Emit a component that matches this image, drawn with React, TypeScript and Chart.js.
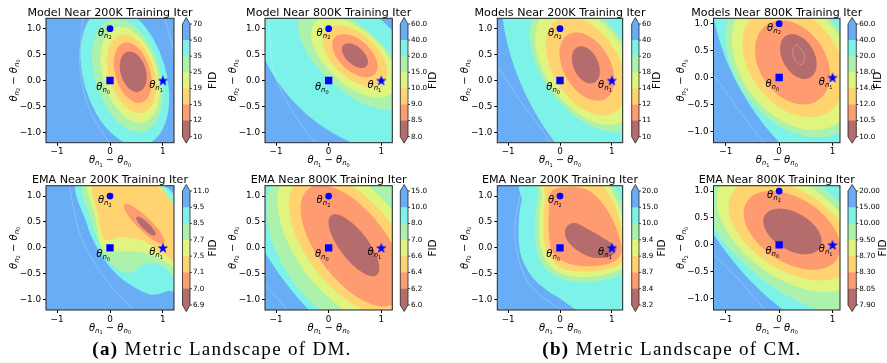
import React, { useEffect, useRef } from "react";
import { Chart, registerables } from "chart.js";
Chart.register(...registerables);

const FONT = "DejaVu Sans";
const LEVEL_COLORS = [
  "rgb(181,108,108)",
  "rgb(255,155,112)",
  "rgb(255,212,112)",
  "rgb(224,244,128)",
  "rgb(172,242,172)",
  "rgb(124,242,232)",
  "rgb(104,173,246)",
];

// ---- shared data ----
const thetaPoints = [
  { x: 0, y: 0 },
  { x: 1, y: 0 },
  { x: 0, y: 1 },
];
const thetaSubs = ["0", "1", "2"];
const xTickValues = [-1, 0, 1];
const yTickValues = [-1, -0.5, 0, 0.5, 1];

// ---- titles ----
const dmModel200kTitle = "Model Near 200K Training Iter";
const dmModel800kTitle = "Model Near 800K Training Iter";
const cmModel200kTitle = "Models Near 200K Training Iter";
const cmModel800kTitle = "Models Near 800K Training Iter";
const dmEma200kTitle = "EMA Near 200K Training Iter";
const dmEma800kTitle = "EMA Near 800K Training Iter";
const cmEma200kTitle = "EMA Near 200K Training Iter";
const cmEma800kTitle = "EMA Near 800K Training Iter";

// ---- colorbar tick labels (top -> bottom) ----
const dmModel200kTicks = ["70", "50", "35", "25", "19", "15", "12", "10"];
const dmModel800kTicks = ["60.0", "40.0", "20.0", "15.0", "10.0", "9.0", "8.5", "8.0"];
const cmModel200kTicks = ["60", "40", "20", "18", "14", "12", "11", "10"];
const cmModel800kTicks = ["60.0", "40.0", "20.0", "18.0", "14.0", "12.0", "10.5", "10.0"];
const dmEma200kTicks = ["11.0", "9.5", "8.5", "7.7", "7.5", "7.1", "7.0", "6.9"];
const dmEma800kTicks = ["15.0", "10.0", "8.0", "7.0", "6.6", "6.4", "6.2", "6.0"];
const cmEma200kTicks = ["20.0", "15.0", "10.0", "9.4", "8.9", "8.7", "8.4", "8.2"];
const cmEma800kTicks = ["20.00", "15.00", "10.00", "9.50", "8.70", "8.30", "8.05", "7.90"];

// ---- contour regions: ellipses [level, cx, cy, semiA, semiB, angleDeg] ----
const dmModel200kEllipses = [
  [5, 0.28, 0.08, 1.38, 0.78, 106],
  [4, 0.33, 0.1, 1.12, 0.62, 106],
  [3, 0.38, 0.11, 0.95, 0.52, 106],
  [2, 0.41, 0.13, 0.78, 0.43, 106],
  [1, 0.43, 0.15, 0.6, 0.33, 106],
  [0, 0.44, 0.17, 0.4, 0.24, 106],
];
const dmModel800kEllipses = [
  [5, 0.3, 0.25, 2.0, 1.15, 137],
  [4, 0.45, 0.42, 1.3, 0.6, 137],
  [3, 0.48, 0.45, 1.0, 0.52, 137],
  [2, 0.5, 0.47, 0.74, 0.42, 137],
  [1, 0.5, 0.48, 0.52, 0.3, 137],
  [0, 0.5, 0.48, 0.3, 0.17, 137],
];
const cmModel200kEllipses = [
  [5, 0.45, 0.3, 2.6, 1.25, 115],
  [4, 0.5, 0.3, 1.45, 0.85, 125],
  [3, 0.5, 0.3, 1.3, 0.78, 125],
  [2, 0.5, 0.28, 1.05, 0.64, 122],
  [1, 0.52, 0.27, 0.72, 0.45, 120],
  [0, 0.5, 0.3, 0.38, 0.24, 115],
];
const cmModel800kEllipses = [
  [5, 0.3, 0.3, 2.4, 1.15, 120],
  [4, 0.26, 0.27, 1.55, 1.06, 128],
  [3, 0.27, 0.28, 1.4, 0.98, 128],
  [2, 0.27, 0.3, 1.15, 0.82, 128],
  [1, 0.25, 0.28, 0.85, 0.62, 125],
  [0, 0.36, 0.39, 0.45, 0.3, 120],
];
const dmEma200kEllipses = [
  [1, 0.65, 0.46, 0.53, 0.13, 135],
  [0, 0.68, 0.42, 0.25, 0.07, 135],
];
const dmEma800kEllipses = [
  [5, 0.55, 0.25, 3.2, 1.65, 128],
  [4, 0.42, 0.06, 2.0, 1.3, 128],
  [3, 0.42, 0.08, 1.85, 1.02, 128],
  [2, 0.44, 0.06, 1.62, 0.84, 128],
  [1, 0.45, 0.04, 1.38, 0.66, 127],
  [0, 0.48, 0.05, 0.72, 0.27, 127],
];
const cmEma800kEllipses = [
  [5, 0.2, 0.3, 2.6, 1.2, 132],
  [4, 0.18, 0.27, 2.1, 1.02, 140],
  [3, 0.2, 0.27, 1.55, 0.88, 145],
  [2, 0.22, 0.27, 1.3, 0.74, 148],
  [1, 0.24, 0.27, 1.0, 0.6, 148],
  [0, 0.25, 0.25, 0.6, 0.35, 150],
];

// ---- contour regions: closed outlines {level, pts} ----
const dmEma200kOutlines = [
  { level: 5, pts: [[-0.6, 1.33], [0.7, 1.33], [1.33, 0.79], [1.33, -0.68], [1.08, -0.84], [0.76, -0.9], [0.38, -0.71], [0.06, -0.44], [-0.22, -0.04], [-0.44, 0.47]] },
  { level: 4, pts: [[-0.47, 1.33], [0.79, 1.33], [1.33, 0.54], [1.33, -0.55], [1.01, -0.36], [0.76, -0.29], [0.57, -0.36], [0.41, -0.47], [0.19, -0.44], [-0.06, -0.23], [-0.2, 0.06], [-0.38, 0.6]] },
  { level: 3, pts: [[-0.38, 1.33], [0.75, 1.33], [1.33, 0.44], [1.33, -0.39], [1.08, -0.29], [0.76, -0.13], [0.51, -0.07], [0.19, -0.07], [-0.09, -0.08], [-0.19, 0.12], [-0.28, 0.6]] },
  { level: 2, pts: [[-0.28, 1.33], [0.71, 1.33], [1.33, 0.54], [1.33, -0.24], [0.95, -0.09], [0.76, 0.06], [0.51, 0.17], [0.19, 0.21], [-0.03, 0.14], [-0.14, 0.22], [-0.22, 0.6]] },
];
const cmEma200kOutlines = [
  { level: 5, pts: [[-0.61, 1.28], [1.35, 1.28], [1.35, -1.27], [0.51, -1.27], [0.0, -0.98], [-0.38, -0.72], [-0.61, -0.46], [-0.77, -0.08], [-0.8, 0.44], [-0.74, 0.92]] },
  { level: 4, pts: [[-0.32, 1.28], [0.87, 1.28], [1.19, 0.86], [1.31, 0.34], [1.31, -0.37], [1.09, -0.56], [0.58, -0.66], [0.13, -0.63], [-0.26, -0.43], [-0.45, -0.05], [-0.48, 0.54], [-0.42, 1.02]] },
  { level: 3, pts: [[-0.27, 1.28], [0.77, 1.28], [1.09, 0.92], [1.25, 0.34], [1.25, -0.3], [1.03, -0.46], [0.58, -0.56], [0.13, -0.53], [-0.19, -0.34], [-0.38, 0.02], [-0.4, 0.54], [-0.35, 0.99]] },
  { level: 2, pts: [[-0.21, 1.26], [0.67, 1.26], [0.99, 0.95], [1.19, 0.37], [1.21, -0.24], [0.96, -0.4], [0.58, -0.46], [0.13, -0.43], [-0.13, -0.27], [-0.29, 0.05], [-0.32, 0.54], [-0.29, 0.95]] },
  { level: 1, pts: [[-0.13, 1.12], [0.32, 1.17], [0.64, 1.05], [0.93, 0.7], [1.12, 0.28], [1.19, -0.08], [1.03, -0.27], [0.71, -0.35], [0.32, -0.34], [0.03, -0.24], [-0.16, -0.05], [-0.22, 0.34], [-0.21, 0.79]] },
  { level: 0, pts: [[0.13, 0.41], [0.29, 0.48], [0.58, 0.34], [0.9, 0.15], [1.09, -0.01], [0.96, -0.17], [0.64, -0.19], [0.38, -0.08], [0.19, 0.08], [0.1, 0.25]] },
];

// ---- faint contour lines inside the far region ----
const dmModel200kFaint = [
  [[-0.51, 1.25], [-0.57, 0.26], [-0.38, -0.58], [0.02, -1.25]],
  [[1.02, 1.25], [1.2, 0.6], [1.28, 0.3]],
];
const dmModel800kFaint = [[[-1.14, 1.25], [-1.06, 0.26], [-0.81, -0.38], [-0.49, -0.9], [-0.2, -1.25]]];
const cmModel200kFaint = [[[-1.25, 0.25], [-1.15, 0.19], [-0.77, -0.39], [-0.38, -0.9], [-0.16, -1.25]]];
const cmModel800kFaint = [
  [[-1.25, 0.08], [-0.8, -0.54], [-0.43, -1.03], [-0.22, -1.25]],
  [[0.24, 0.5], [0.34, 0.6], [0.48, 0.4], [0.42, 0.24], [0.3, 0.32], [0.24, 0.5]],
];
const dmEma200kFaint = [
  [[-0.79, 1.3], [-0.57, 0.28], [-0.25, -0.36], [0.13, -0.87], [0.51, -1.25]],
  [[0.89, 1.3], [1.25, 0.9]],
];
const dmEma800kFaint = [[[-1.25, -0.66], [-1.0, -0.95], [-0.75, -1.25]]];
const cmEma200kFaint = [[[-0.71, 1.25], [-0.87, 0.44], [-0.8, -0.21], [-0.58, -0.72], [-0.19, -1.05], [0.13, -1.25]]];
const cmEma800kFaint = [[[-1.25, -0.15], [-0.8, -0.6], [-0.3, -1.17], [-0.25, -1.25]]];

// ---- layout (positions only) ----
type Panel = {
  title: string;
  ticks: string[];
  ellipses: number[][];
  outlines: { level: number; pts: number[][] }[];
  faint: number[][][];
  L: number; R: number; T: number; B: number;
  xr: number[]; yr: number[];
  cbL: number; cbR: number; cbT: number; cbB: number; fidX: number;
};

const COLS = [
  { L: 46, R: 174, cbL: 182.5, cbR: 190, xr: [-1.21, 1.21], yr: [-1.2, 1.2] },
  { L: 265, R: 392.3, cbL: 400.3, cbR: 408, xr: [-1.21, 1.21], yr: [-1.2, 1.2] },
  { L: 497.3, R: 622.7, cbL: 631.7, cbR: 639, xr: [-1.21, 1.21], yr: [-1.2, 1.2] },
  { L: 713.5, R: 840, cbL: 848, cbR: 856.3, xr: [-1.23, 1.14], yr: [-1.21, 1.1] },
];
const ROWS = [
  { T: 18.3, B: 142.7, cbT: 24, cbB: 136.7 },
  { T: 185.7, B: 310, cbT: 191, cbB: 305 },
];

function mk(col: number, row: number, fidX: number, title: string, ticks: string[], ellipses: number[][], outlines: any[], faint: number[][][]): Panel {
  return { title, ticks, ellipses, outlines, faint, ...COLS[col], ...ROWS[row], fidX } as Panel;
}

const PANELS: Panel[] = [
  mk(0, 0, 213, dmModel200kTitle, dmModel200kTicks, dmModel200kEllipses, [], dmModel200kFaint),
  mk(1, 0, 433, dmModel800kTitle, dmModel800kTicks, dmModel800kEllipses, [], dmModel800kFaint),
  mk(2, 0, 657, cmModel200kTitle, cmModel200kTicks, cmModel200kEllipses, [], cmModel200kFaint),
  mk(3, 0, 878, cmModel800kTitle, cmModel800kTicks, cmModel800kEllipses, [], cmModel800kFaint),
  mk(0, 1, 213, dmEma200kTitle, dmEma200kTicks, dmEma200kEllipses, dmEma200kOutlines, dmEma200kFaint),
  mk(1, 1, 433, dmEma800kTitle, dmEma800kTicks, dmEma800kEllipses, [], dmEma800kFaint),
  mk(2, 1, 662, cmEma200kTitle, cmEma200kTicks, [], cmEma200kOutlines, cmEma200kFaint),
  mk(3, 1, 883, cmEma800kTitle, cmEma800kTicks, cmEma800kEllipses, [], cmEma800kFaint),
];

// ---- drawing helpers ----
function toPx(xs: any, ys: any, pts: number[][]) {
  return pts.map(([x, y]) => [xs.getPixelForValue(x), ys.getPixelForValue(y)]);
}

function smoothPath(ctx: CanvasRenderingContext2D, P: number[][], closed: boolean) {
  const n = P.length;
  ctx.beginPath();
  const get = (i: number) => (closed ? P[(i + n) % n] : P[Math.max(0, Math.min(n - 1, i))]);
  ctx.moveTo(P[0][0], P[0][1]);
  const segs = closed ? n : n - 1;
  for (let i = 0; i < segs; i++) {
    const p0 = get(i - 1), p1 = get(i), p2 = get(i + 1), p3 = get(i + 2);
    const c1x = p1[0] + (p2[0] - p0[0]) / 6, c1y = p1[1] + (p2[1] - p0[1]) / 6;
    const c2x = p2[0] - (p3[0] - p1[0]) / 6, c2y = p2[1] - (p3[1] - p1[1]) / 6;
    ctx.bezierCurveTo(c1x, c1y, c2x, c2y, p2[0], p2[1]);
  }
  if (closed) ctx.closePath();
}

function ellipsePath(ctx: CanvasRenderingContext2D, xs: any, ys: any, e: number[]) {
  const [, cx, cy, a, b, ang] = e;
  const px = xs.getPixelForValue(cx), py = ys.getPixelForValue(cy);
  const sx = xs.getPixelForValue(1) - xs.getPixelForValue(0);
  const sy = ys.getPixelForValue(0) - ys.getPixelForValue(1);
  ctx.save();
  ctx.translate(px, py);
  ctx.scale(sx, -sy);
  ctx.rotate((ang * Math.PI) / 180);
  ctx.beginPath();
  ctx.ellipse(0, 0, a, b, 0, 0, Math.PI * 2);
  ctx.restore();
}

function thetaWidth(ctx: CanvasRenderingContext2D, size: number, sub: string) {
  ctx.font = `italic ${size}px ${FONT}`;
  const w1 = ctx.measureText("θ").width;
  ctx.font = `italic ${size * 0.7}px ${FONT}`;
  const w2 = ctx.measureText("n").width;
  ctx.font = `${size * 0.5}px ${FONT}`;
  const w3 = ctx.measureText(sub).width;
  return w1 + w2 + w3;
}

function drawTheta(ctx: CanvasRenderingContext2D, x: number, y: number, size: number, sub: string) {
  ctx.textAlign = "left";
  ctx.textBaseline = "alphabetic";
  ctx.font = `italic ${size}px ${FONT}`;
  const w1 = ctx.measureText("θ").width;
  ctx.fillText("θ", x, y);
  ctx.font = `italic ${size * 0.7}px ${FONT}`;
  const w2 = ctx.measureText("n").width;
  ctx.fillText("n", x + w1, y + size * 0.2);
  ctx.font = `${size * 0.5}px ${FONT}`;
  ctx.fillText(sub, x + w1 + w2, y + size * 0.2 + size * 0.15);
  return thetaWidth(ctx, size, sub);
}

function drawDiffLabel(ctx: CanvasRenderingContext2D, cx: number, y: number, size: number, a: string, b: string) {
  const wa = thetaWidth(ctx, size, a);
  const wb = thetaWidth(ctx, size, b);
  ctx.font = `${size}px ${FONT}`;
  const wm = ctx.measureText(" \u2212 ").width;
  const total = wa + wm + wb;
  let x = cx - total / 2;
  drawTheta(ctx, x, y, size, a);
  x += wa;
  ctx.font = `${size}px ${FONT}`;
  ctx.textAlign = "left";
  ctx.fillText(" \u2212 ", x, y);
  x += wm;
  drawTheta(ctx, x, y, size, b);
}

function makePlugin(p: Panel) {
  return {
    id: "landscape",
    beforeDatasetsDraw(chart: any) {
      const { ctx, chartArea: ca, scales } = chart;
      const xs = scales.x, ys = scales.y;
      ctx.save();
      ctx.beginPath();
      ctx.rect(ca.left, ca.top, ca.right - ca.left, ca.bottom - ca.top);
      ctx.clip();
      ctx.fillStyle = LEVEL_COLORS[6];
      ctx.fillRect(ca.left, ca.top, ca.right - ca.left, ca.bottom - ca.top);
      const items: { level: number; draw: () => void }[] = [];
      p.outlines.forEach((o) =>
        items.push({ level: o.level, draw: () => smoothPath(ctx, toPx(xs, ys, o.pts), true) })
      );
      p.ellipses.forEach((e) => items.push({ level: e[0], draw: () => ellipsePath(ctx, xs, ys, e) }));
      items.sort((a, b) => b.level - a.level);
      items.forEach((it) => {
        it.draw();
        ctx.fillStyle = LEVEL_COLORS[it.level];
        ctx.fill();
      });
      ctx.strokeStyle = "rgba(255,255,255,0.42)";
      ctx.lineWidth = 0.6;
      p.faint.forEach((f) => {
        smoothPath(ctx, toPx(xs, ys, f), false);
        ctx.stroke();
      });
      ctx.restore();
    },
    afterDatasetsDraw(chart: any) {
      const { ctx, scales } = chart;
      const xs = scales.x, ys = scales.y;
      ctx.save();
      ctx.fillStyle = "#000";
      const offs = [
        [0, 9.5],
        [0, 7.5],
        [1.7, 7],
      ];
      thetaPoints.forEach((pt, i) => {
        const px = xs.getPixelForValue(pt.x), py = ys.getPixelForValue(pt.y);
        const w = thetaWidth(ctx, 10, thetaSubs[i]);
        drawTheta(ctx, px + offs[i][0] - w, py + offs[i][1], 10, thetaSubs[i]);
      });
      ctx.restore();
    },
    afterDraw(chart: any) {
      const { ctx, chartArea: ca } = chart;
      ctx.save();
      ctx.strokeStyle = "#222";
      ctx.lineWidth = 1;
      ctx.strokeRect(ca.left, ca.top, ca.right - ca.left, ca.bottom - ca.top);
      ctx.fillStyle = "#000";
      ctx.font = `11.1px ${FONT}`;
      ctx.textAlign = "center";
      ctx.textBaseline = "alphabetic";
      ctx.fillText(p.title, (ca.left + ca.right) / 2, ca.top - 2.8);
      drawDiffLabel(ctx, (ca.left + ca.right) / 2, ca.bottom + 20.5, 10, "1", "0");
      ctx.save();
      ctx.translate(ca.left - 29.5, (ca.top + ca.bottom) / 2);
      ctx.rotate(-Math.PI / 2);
      drawDiffLabel(ctx, 0, 0, 10, "2", "0");
      ctx.restore();
      const n = p.ticks.length - 1;
      const segH = (p.cbB - p.cbT) / n;
      for (let i = 0; i < n; i++) {
        ctx.fillStyle = LEVEL_COLORS[6 - i];
        ctx.fillRect(p.cbL, p.cbT + i * segH, p.cbR - p.cbL, segH + 0.6);
      }
      const mid = (p.cbL + p.cbR) / 2;
      ctx.fillStyle = LEVEL_COLORS[6];
      ctx.beginPath();
      ctx.moveTo(p.cbL, p.cbT + 0.5);
      ctx.lineTo(mid, p.cbT - 6.5);
      ctx.lineTo(p.cbR, p.cbT + 0.5);
      ctx.closePath();
      ctx.fill();
      ctx.fillStyle = LEVEL_COLORS[0];
      ctx.beginPath();
      ctx.moveTo(p.cbL, p.cbB - 0.5);
      ctx.lineTo(mid, p.cbB + 6.5);
      ctx.lineTo(p.cbR, p.cbB - 0.5);
      ctx.closePath();
      ctx.fill();
      ctx.strokeStyle = "#222";
      ctx.lineWidth = 0.8;
      ctx.beginPath();
      ctx.moveTo(p.cbL, p.cbT);
      ctx.lineTo(mid, p.cbT - 6.5);
      ctx.lineTo(p.cbR, p.cbT);
      ctx.lineTo(p.cbR, p.cbB);
      ctx.lineTo(mid, p.cbB + 6.5);
      ctx.lineTo(p.cbL, p.cbB);
      ctx.closePath();
      ctx.stroke();
      ctx.fillStyle = "#000";
      ctx.font = `7.2px ${FONT}`;
      ctx.textAlign = "left";
      ctx.textBaseline = "middle";
      ctx.lineWidth = 0.7;
      ctx.strokeStyle = "#000";
      p.ticks.forEach((t, j) => {
        const yy = p.cbT + j * segH;
        ctx.beginPath();
        ctx.moveTo(p.cbR, yy);
        ctx.lineTo(p.cbR + 2, yy);
        ctx.stroke();
        ctx.fillText(t, p.cbR + 3, yy);
      });
      ctx.save();
      ctx.translate(p.fidX, (p.cbT + p.cbB) / 2);
      ctx.rotate(-Math.PI / 2);
      ctx.font = `10.5px ${FONT}`;
      ctx.textAlign = "center";
      ctx.textBaseline = "middle";
      ctx.fillText("FID", 0, 0);
      ctx.restore();
      ctx.restore();
    },
  };
}

let starCanvas: HTMLCanvasElement | null = null;
function getStar() {
  if (starCanvas) return starCanvas;
  const c = document.createElement("canvas");
  c.width = 12;
  c.height = 12;
  const g = c.getContext("2d")!;
  g.fillStyle = "#0000ff";
  g.beginPath();
  for (let i = 0; i < 10; i++) {
    const r = i % 2 === 0 ? 5.6 : 2.3;
    const a = -Math.PI / 2 + (i * Math.PI) / 5;
    const x = 6 + r * Math.cos(a), y = 6.4 + r * Math.sin(a);
    if (i === 0) g.moveTo(x, y);
    else g.lineTo(x, y);
  }
  g.closePath();
  g.fill();
  starCanvas = c;
  return c;
}

function fmt(v: number, d: number) {
  return (v < 0 ? "\u2212" : "") + Math.abs(v).toFixed(d);
}

function PanelChart({ p }: { p: Panel }) {
  const ref = useRef<HTMLCanvasElement>(null);
  useEffect(() => {
    const canvas = ref.current!;
    const star = getStar();
    const styles: any[] = ["rect", star, "circle"];
    const radii = [5.2, 6, 3.4];
    const tickFont = { family: FONT, size: 8.8 };
    const chart = new Chart(canvas, {
      type: "scatter",
      data: {
        datasets: [
          {
            data: thetaPoints,
            backgroundColor: "#0000ff",
            borderColor: "#0000ff",
            pointBorderWidth: 0,
            pointStyle: (c: any) => styles[c.dataIndex],
            pointRadius: (c: any) => radii[c.dataIndex],
          } as any,
        ],
      },
      plugins: [makePlugin(p)],
      options: {
        animation: false,
        responsive: false,
        devicePixelRatio: 1,
        events: [],
        layout: {
          autoPadding: false,
          padding: { left: p.L - 40, right: 887 - p.R, top: p.T, bottom: 363 - p.B - 30 },
        } as any,
        plugins: { legend: { display: false }, tooltip: { enabled: false }, title: { display: false } },
        scales: {
          x: {
            type: "linear",
            min: p.xr[0],
            max: p.xr[1],
            afterBuildTicks: (s: any) => {
              s.ticks = xTickValues.map((v) => ({ value: v }));
            },
            afterFit: (s: any) => {
              s.height = 30;
            },
            ticks: { font: tickFont, color: "#000", padding: 1, maxRotation: 0, autoSkip: false, callback: (v: any) => fmt(Number(v), 0) },
            grid: { drawOnChartArea: false, drawTicks: true, tickLength: 3, color: "#000" },
            border: { display: false },
          },
          y: {
            type: "linear",
            min: p.yr[0],
            max: p.yr[1],
            afterBuildTicks: (s: any) => {
              s.ticks = yTickValues.map((v) => ({ value: v }));
            },
            afterFit: (s: any) => {
              s.width = 40;
            },
            ticks: { font: tickFont, color: "#000", padding: 2, autoSkip: false, callback: (v: any) => fmt(Number(v), 1) },
            grid: { drawOnChartArea: false, drawTicks: true, tickLength: 3, color: "#000" },
            border: { display: false },
          },
        },
      },
    } as any);
    return () => chart.destroy();
  }, [p]);
  return <canvas ref={ref} width={887} height={363} style={{ position: "absolute", left: 0, top: 0 }} />;
}

const captionStyle: React.CSSProperties = {
  position: "absolute",
  top: 339,
  fontFamily: "'Liberation Serif', serif",
  fontSize: 19,
  letterSpacing: 1.3,
  lineHeight: "20px",
  textAlign: "center",
  color: "#000",
  whiteSpace: "nowrap",
};

export default function App() {
  return (
    <div style={{ position: "fixed", left: 0, top: 0, width: 887, height: 363, background: "#fff", overflow: "hidden" }}>
      {PANELS.map((p, i) => (
        <PanelChart key={i} p={p} />
      ))}
      <div style={{ ...captionStyle, left: 22, width: 400 }}>
        <b>(a)</b> Metric Landscape of DM.
      </div>
      <div style={{ ...captionStyle, left: 472, width: 400 }}>
        <b>(b)</b> Metric Landscape of CM.
      </div>
    </div>
  );
}
